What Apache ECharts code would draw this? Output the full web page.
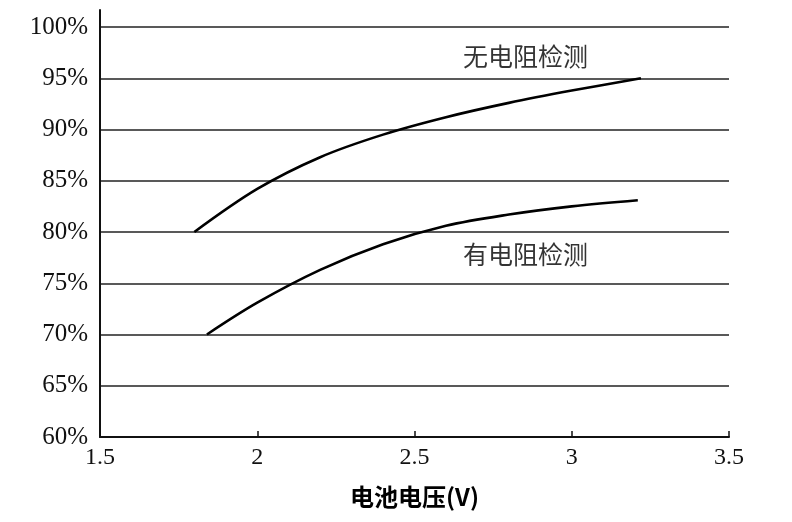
<!DOCTYPE html>
<html><head><meta charset="utf-8">
<script src="https://cdn.jsdelivr.net/npm/echarts@6/dist/echarts.min.js"></script>
<style>html,body{margin:0;padding:0;background:#fff}#c{width:792px;height:522px}</style>
</head><body><div id="c"></div>
<script>
// Data
const xTicks = [1.5, 2, 2.5, 3, 3.5];
const yTicks = [60, 65, 70, 75, 80, 85, 90, 95, 100];
const noResX = [1.8, 2.0, 2.2, 2.4, 2.6, 2.8, 3.0, 3.22];
const noResY = [80, 84.2, 87.3, 89.5, 91.2, 92.6, 93.8, 95.0];
const resX = [1.84, 2.0, 2.2, 2.4, 2.6, 2.8, 3.0, 3.21];
const resY = [70, 73.1, 76.3, 78.8, 80.6, 81.7, 82.5, 83.1];
const labelTexts = ['无电阻检测', '有电阻检测'];
const labelX = [2.853, 2.853];
const labelY = [97.1, 77.8];
const xName = '电池电压(V)';

const zip = (a, b) => a.map((v, i) => [v, b[i]]);
const serif = 'Liberation Serif';
const cjk = '"Noto Sans CJK SC"';

const chart = echarts.init(document.getElementById('c'));
chart.setOption({
  animation: false,
  backgroundColor: '#fff',
  grid: { left: 100, right: 63, top: 10, bottom: 85 },
  xAxis: {
    type: 'value', min: xTicks[0], max: xTicks[xTicks.length - 1], interval: 0.5,
    name: xName, nameLocation: 'middle', nameGap: 48,
    nameTextStyle: { fontFamily: cjk, fontSize: 24, fontWeight: 'bold', color: '#000' },
    axisLine: { lineStyle: { color: '#111', width: 2 } },
    axisTick: { show: true, inside: true, length: 6, lineStyle: { color: '#111', width: 1.5 } },
    axisLabel: { fontFamily: serif, fontSize: 24, color: '#111', margin: 9 },
    splitLine: { show: false }
  },
  yAxis: {
    type: 'value', min: yTicks[0], max: 101.66, interval: 5,
    axisLine: { show: true, lineStyle: { color: '#111', width: 2 } },
    axisTick: { show: false },
    axisLabel: { fontFamily: serif, fontSize: 25, color: '#111', margin: 12, showMaxLabel: false,
      formatter: v => (yTicks.indexOf(v) >= 0 ? v + '%' : '') },
    splitLine: { show: true, showMaxLine: false, showMinLine: false, lineStyle: { color: '#222', width: 1.6 } }
  },
  series: [
    { type: 'line', data: zip(noResX, noResY), smooth: 0.35, symbol: 'none',
      lineStyle: { color: '#000', width: 2.6 } },
    { type: 'line', data: zip(resX, resY), smooth: 0.35, symbol: 'none',
      lineStyle: { color: '#000', width: 2.6 } },
    { type: 'scatter', symbolSize: 0, data: labelTexts.map((t, i) => ({ value: [labelX[i], labelY[i]], name: t })),
      label: { show: true, position: 'inside', formatter: p => p.name,
        fontFamily: cjk, fontSize: 25, color: '#000' } }
  ]
});
</script></body></html>
